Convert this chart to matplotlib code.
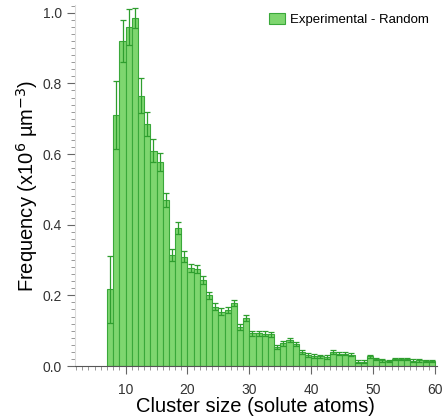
import numpy as np
import matplotlib
matplotlib.use('Agg')
import matplotlib.pyplot as plt
from matplotlib.ticker import MultipleLocator

# Cluster size bins (left edges) and frequency values (x10^6 um^-3)
sizes = list(range(7, 60))
freq = [0.217, 0.71, 0.92, 0.96, 0.985, 0.765, 0.685, 0.61, 0.577, 0.47,
        0.314, 0.39, 0.31, 0.277, 0.275, 0.244, 0.2, 0.168, 0.154, 0.159,
        0.178, 0.111, 0.136, 0.093, 0.093, 0.092, 0.09, 0.054, 0.064, 0.074,
        0.063, 0.039, 0.031, 0.029, 0.027, 0.026, 0.04, 0.035, 0.035, 0.032,
        0.012, 0.012, 0.028, 0.02, 0.016, 0.014, 0.02, 0.02, 0.02, 0.015,
        0.016, 0.014, 0.014]
err = [0.095, 0.097, 0.06, 0.05, 0.028, 0.05, 0.033, 0.032, 0.025, 0.02,
       0.016, 0.017, 0.015, 0.012, 0.012, 0.011, 0.01, 0.009, 0.009, 0.009,
       0.009, 0.008, 0.008, 0.007, 0.007, 0.007, 0.007, 0.006, 0.006, 0.006,
       0.006, 0.005, 0.005, 0.005, 0.005, 0.005, 0.005, 0.005, 0.005, 0.005,
       0.004, 0.004, 0.004, 0.004, 0.004, 0.004, 0.004, 0.004, 0.004, 0.004,
       0.004, 0.004, 0.004]

plt.rcParams['font.family'] = ['Liberation Sans', 'DejaVu Sans']

fig = plt.figure(figsize=(4.43, 4.18), dpi=100)
ax = fig.add_axes([0.169, 0.1244, 0.817, 0.8636])

x = np.array(sizes) + 0.5
ax.bar(x, freq, width=1.0, color='#7ed66f', edgecolor='#3aa83a', linewidth=0.8,
       label='Experimental - Random', zorder=2)
ax.errorbar(x, freq, yerr=err, fmt='none', ecolor='#2e9e2e', elinewidth=0.9,
            capsize=2.5, capthick=0.9, zorder=3)

ax.set_xlim(1.8, 60.3)
ax.set_ylim(0, 1.022)

ax.xaxis.set_major_locator(MultipleLocator(10))
ax.xaxis.set_minor_locator(MultipleLocator(1))
ax.yaxis.set_major_locator(MultipleLocator(0.2))
ax.yaxis.set_minor_locator(MultipleLocator(0.02))
ax.set_yticklabels(['%.1f' % v for v in ax.get_yticks()])

ax.tick_params(axis='both', which='major', labelsize=10, labelcolor='#333333',
               color='#666666', length=6, width=0.8)
ax.tick_params(axis='both', which='minor', color='#888888', length=3, width=0.6)
ax.tick_params(axis='x', pad=6)

for side in ['top', 'right']:
    ax.spines[side].set_visible(False)
ax.spines['left'].set_color('#dddddd')
ax.spines['bottom'].set_color('#555555')

ax.set_xlabel('Cluster size (solute atoms)', fontsize=14.5, labelpad=0)
ax.set_ylabel('Frequency (x10$^{6}$ µm$^{-3}$)', fontsize=14.5, labelpad=2)

ax.legend(loc='upper right', frameon=False, fontsize=9.5, handlelength=1.2,
          handleheight=0.9, borderaxespad=0.2, handletextpad=0.4)

fig.savefig('out.png', dpi=100)
